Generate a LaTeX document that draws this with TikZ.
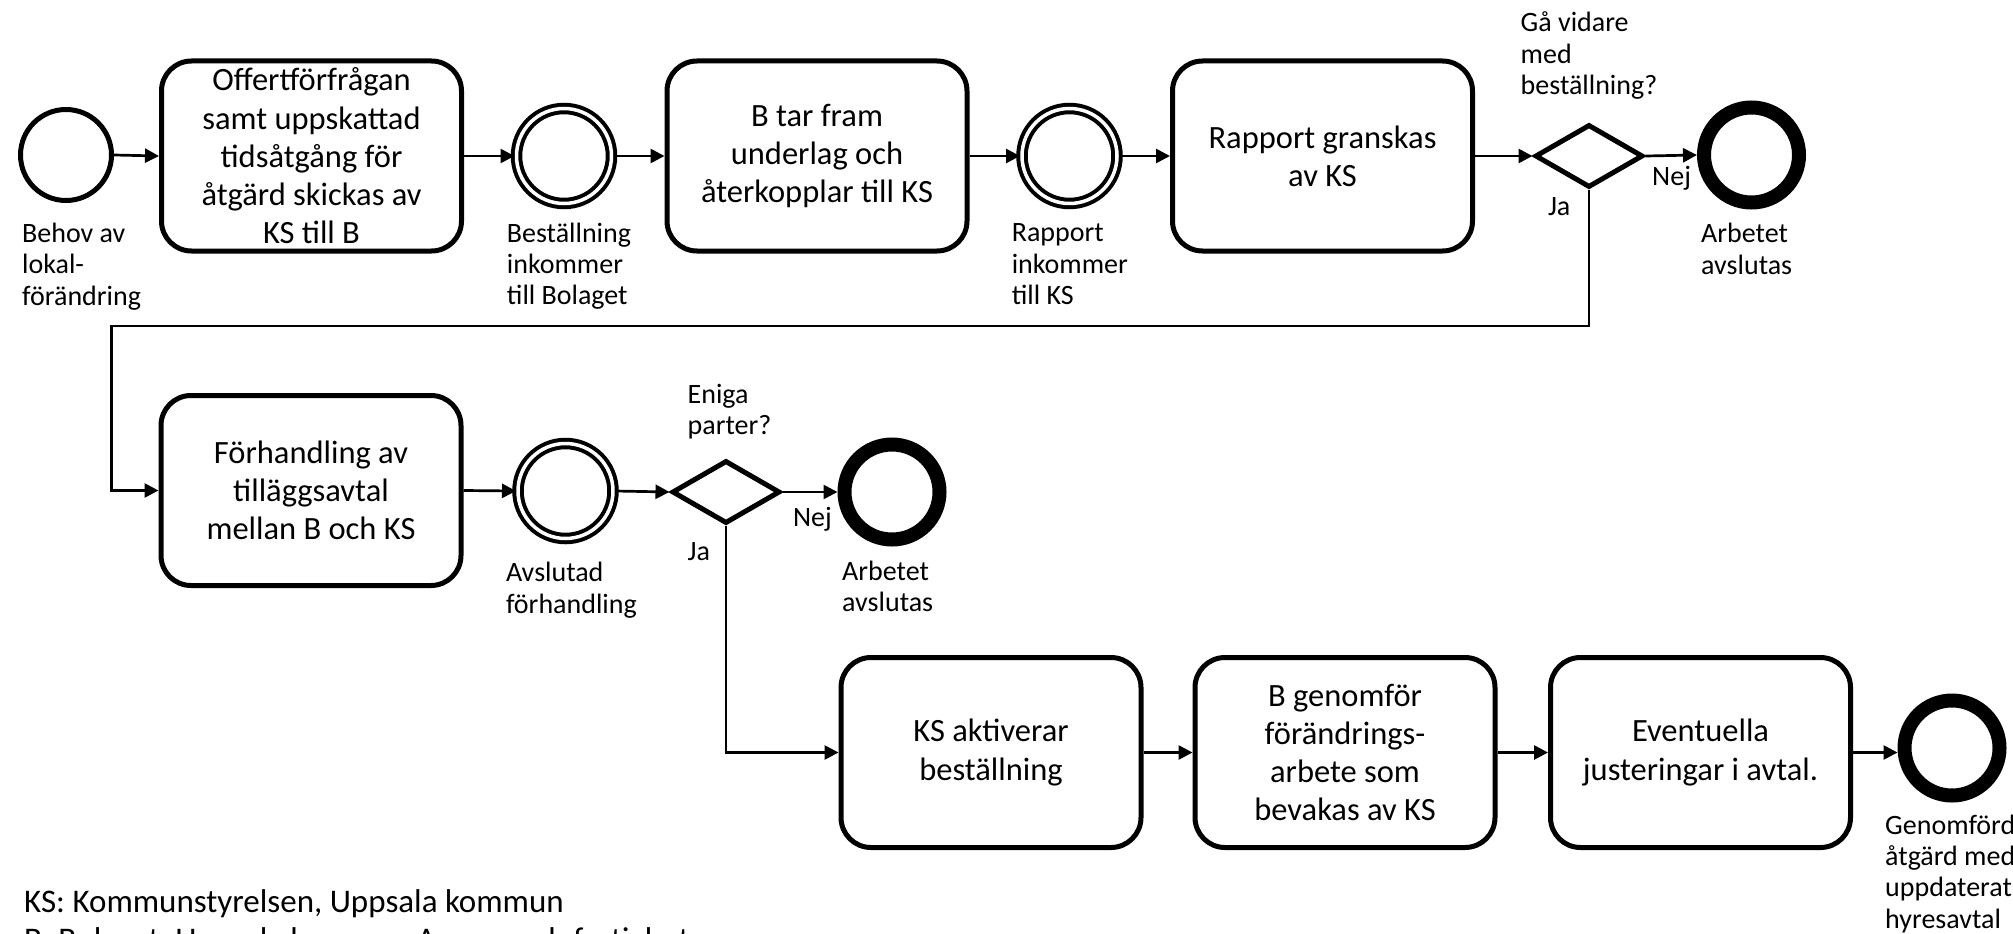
\documentclass[tikz,border=0pt]{standalone}
\usepackage{fontspec}
\setmainfont{Carlito}
\usetikzlibrary{arrows.meta,shapes.geometric}
\begin{document}
\begin{tikzpicture}[x=1pt,y=-1pt,
  task/.style={draw, line width=5pt, rounded corners=30pt, minimum width=300pt, minimum height=190pt, align=center, inner sep=0pt, font=\fontsize{32.5}{38.3}\selectfont},
  startev/.style={circle, draw, line width=5pt, minimum size=91pt, inner sep=0pt},
  midev/.style={circle, draw, line width=4pt, double, double distance=3.5pt, minimum size=95pt, inner sep=0pt},
  endev/.style={circle, draw, line width=14pt, minimum size=95pt, inner sep=0pt},
  gate/.style={diamond, draw, line width=5pt, minimum width=108pt, minimum height=63pt, inner sep=0pt},
  lbl/.style={anchor=base west, align=left, inner sep=0pt, font=\fontsize{28}{31.3}\selectfont},
  legend/.style={anchor=base west, align=left, inner sep=0pt, font=\fontsize{33}{38}\selectfont},
  conn/.style={line width=2.7pt, -{Triangle[length=14pt,width=14pt]}},
]
\fill[white] (0,0) rectangle (2013,934);
\useasboundingbox (0,0) rectangle (2013,934);

% row 1
\node[startev] (s) at (66,155) {};
\node[task] (t1) at (311.5,156) {Offertförfrågan\\samt uppskattad\\tidsåtgång för\\åtgärd skickas av\\KS till B};
\node[midev] (e1) at (564,156) {};
\node[task] (t2) at (817,156) {B tar fram\\underlag och\\återkopplar till KS};
\node[midev] (e2) at (1069.5,156) {};
\node[task] (t3) at (1322.5,156) {Rapport granskas\\av KS};
\node[gate] (g1) at (1589,156) {};
\node[endev] (x1) at (1751.5,155) {};

% row 2
\node[task] (t4) at (311,490.5) {Förhandling av\\tilläggsavtal\\mellan B och KS};
\node[midev] (e3) at (565.5,491) {};
\node[gate] (g2) at (726,492) {};
\node[endev] (x2) at (892,492) {};

% row 3
\node[task] (t5) at (991,752.5) {KS aktiverar\\beställning};
\node[task] (t6) at (1345,752.5) {B genomför\\förändrings-\\arbete som\\bevakas av KS};
\node[task] (t7) at (1700.5,752.5) {Eventuella\\justeringar i avtal.};
\node[endev] (x3) at (1952,748) {};

% labels (base = baseline of last line)
\node[lbl] (ls) at (22,305) {Behov av\\lokal-\\förändring};
\node[lbl] (le1) at (506.7,304.6) {Beställning\\inkommer\\till Bolaget};
\node[lbl] (le2) at (1011.6,304.3) {Rapport\\inkommer\\till KS};
\node[lbl] (lg1) at (1520.5,94.3) {Gå vidare\\med\\beställning?};
\node[lbl] (nej1) at (1652,185) {Nej};
\node[lbl] (ja1) at (1547.8,215) {Ja};
\node[lbl] (lx1) at (1701,274) {Arbetet\\avslutas};
\node[lbl] (le3) at (505.8,613) {Avslutad\\förhandling};
\node[lbl] (lg2) at (687.5,434.6) {Eniga\\parter?};
\node[lbl] (nej2) at (792.8,526.7) {Nej};
\node[lbl] (ja2) at (687.5,560) {Ja};
\node[lbl] (lx2) at (842,611.3) {Arbetet\\avslutas};
\node[lbl] (lx3) at (1885,928) {Genomförd\\åtgärd med\\uppdaterat\\hyresavtal};
\node[legend] (leg) at (24,950) {KS: Kommunstyrelsen, Uppsala kommun\\B: Bolaget, Uppsala kommun Arenor och fastigheter};

% connectors
\coordinate (jay) at (111.6,326);
\draw[conn] (s.east) -- (t1.west);
\draw[conn] (t1.east) -- (e1.west);
\draw[conn] (e1.east) -- (t2.west);
\draw[conn] (t2.east) -- (e2.west);
\draw[conn] (e2.east) -- (t3.west);
\draw[conn] (t3.east) -- (g1.west);
\draw[conn] (g1.east) -- (x1.west);
\draw[conn] (g1.south) |- (jay) |- (t4.west);
\draw[conn] (t4.east) -- (e3.west);
\draw[conn] (e3.east) -- (g2.west);
\draw[conn] (g2.east) -- (x2.west);
\draw[conn] (g2.south) |- (t5.west);
\draw[conn] (t5.east) -- (t6.west);
\draw[conn] (t6.east) -- (t7.west);
\draw[conn] (t7.east) -- (t7.east -| x3.west);
\end{tikzpicture}
\end{document}
